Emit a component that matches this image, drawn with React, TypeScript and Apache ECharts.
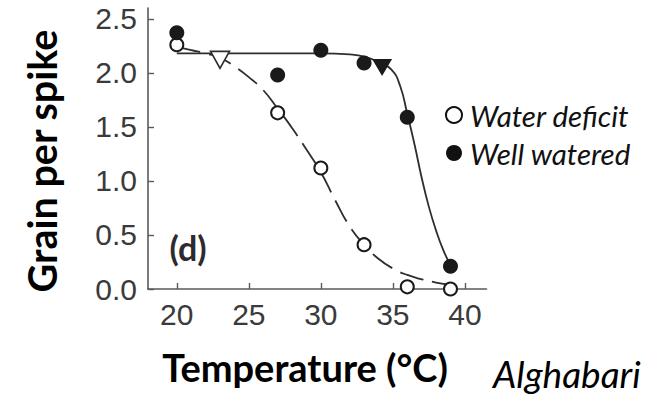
import React, { useEffect, useRef } from "react";
import * as echarts from "echarts";

// ---- data ----
const xTicks = [20, 25, 30, 35, 40];
const yTicks = [0, 0.5, 1.0, 1.5, 2.0, 2.5];

// measured points (temperature °C, grain per spike)
const waterDeficit: [number, number][] = [
  [20, 2.26], [27, 1.63], [30, 1.12], [33, 0.41], [36, 0.02], [39, 0.0],
];
const wellWatered: [number, number][] = [
  [20, 2.37], [27, 1.98], [30, 2.21], [33, 2.09], [36, 1.59], [39, 0.21],
];

// fitted curves
const waterDeficitCurve: [number, number][] = [
  [20, 2.24], [21, 2.21], [22, 2.18], [23, 2.14], [24, 2.06], [25, 1.96],
  [26, 1.84], [27, 1.67], [28, 1.49], [29, 1.29], [30, 1.08], [31, 0.82],
  [32, 0.58], [33, 0.41], [34, 0.28], [35, 0.19], [36, 0.13], [37, 0.09],
  [38, 0.06], [39, 0.04],
];
const wellWateredCurve: [number, number][] = [
  [20, 2.18], [25, 2.18], [30, 2.18], [32, 2.17], [33, 2.15], [34, 2.1],
  [34.9, 2.03], [35.5, 1.88], [36, 1.62], [36.5, 1.34], [37, 1.03],
  [37.5, 0.76], [38, 0.54], [38.5, 0.36], [39, 0.22],
];

// threshold markers (triangles)
const waterDeficitThreshold: [number, number][] = [[23, 2.12]];
const wellWateredThreshold: [number, number][] = [[34.25, 2.05]];

const INK = "#1a1a1a";
const LINE = "#2e2e2e";

export default function App() {
  const ref = useRef<HTMLDivElement>(null);

  useEffect(() => {
    document.body.style.margin = "0";
    const chart = echarts.init(ref.current!, null, { renderer: "svg" });
    const option: any = {
      animation: false,
      backgroundColor: "#ffffff",
      grid: { left: 148, top: 8, right: 164.5, bottom: 107 },
      xAxis: {
        type: "value",
        min: 18,
        max: 41.5,
        splitLine: { show: false },
        axisLine: { show: true, lineStyle: { color: "#5a5a5a", width: 1.6 } },
        axisTick: {
          show: true,
          inside: true,
          length: 6,
          customValues: xTicks,
          lineStyle: { color: "#5a5a5a", width: 1.4 },
        },
        axisLabel: {
          customValues: xTicks,
          fontFamily: "Liberation Sans",
          fontSize: 30,
          color: "#3a3a3a",
          margin: 10,
        },
      },
      yAxis: {
        type: "value",
        min: 0,
        max: 2.6,
        splitLine: { show: false },
        axisLine: { show: true, lineStyle: { color: "#5a5a5a", width: 1.6 } },
        axisTick: {
          show: true,
          inside: true,
          length: 6,
          customValues: yTicks,
          lineStyle: { color: "#5a5a5a", width: 1.4 },
        },
        axisLabel: {
          customValues: yTicks,
          formatter: (v: number) => v.toFixed(1),
          fontFamily: "Liberation Sans",
          fontSize: 30,
          color: "#3a3a3a",
          margin: 11,
        },
      },
      legend: {
        orient: "vertical",
        left: 440,
        top: 95,
        itemWidth: 16,
        itemHeight: 16,
        itemGap: 8,
        selectedMode: false,
        textStyle: {
          fontFamily: "Lato",
          fontStyle: "italic",
          fontSize: 29.5,
          lineHeight: 28,
          color: "#111111",
          padding: [0, 0, 0, 3],
        },
        data: [
          {
            name: "Water deficit",
            icon: "circle",
            itemStyle: { color: "#ffffff", borderColor: "#111111", borderWidth: 2, opacity: 1 },
          },
          { name: "Well watered", icon: "circle", itemStyle: { color: "#111111", opacity: 1 } },
        ],
      },
      series: [
        {
          name: "Water deficit fit",
          type: "line",
          data: waterDeficitCurve,
          smooth: true,
          symbol: "none",
          silent: true,
          z: 2,
          lineStyle: { color: LINE, width: 1.8, type: [24, 9] },
        },
        {
          name: "Well watered fit",
          type: "line",
          data: wellWateredCurve,
          smooth: true,
          symbol: "none",
          silent: true,
          z: 2,
          lineStyle: { color: LINE, width: 1.8, type: "solid" },
        },
        {
          name: "Water deficit",
          type: "scatter",
          data: waterDeficit,
          symbol: "circle",
          symbolSize: 13,
          z: 4,
          itemStyle: { color: "#ffffff", borderColor: INK, borderWidth: 2, opacity: 1 },
        },
        {
          name: "Well watered",
          type: "scatter",
          data: wellWatered,
          symbol: "circle",
          symbolSize: 15,
          z: 4,
          itemStyle: { color: INK, opacity: 1 },
        },
        {
          name: "Water deficit threshold",
          type: "scatter",
          data: waterDeficitThreshold,
          symbol: "triangle",
          symbolRotate: 180,
          symbolSize: [19, 17],
          z: 5,
          itemStyle: { color: "#ffffff", borderColor: LINE, borderWidth: 1.6, opacity: 1 },
        },
        {
          name: "Well watered threshold",
          type: "scatter",
          data: wellWateredThreshold,
          symbol: "triangle",
          symbolRotate: 180,
          symbolSize: [20, 17],
          z: 5,
          itemStyle: { color: INK, opacity: 1 },
        },
      ],
      graphic: [
        {
          type: "text",
          x: 41,
          y: 161,
          rotation: Math.PI / 2,
          style: {
            text: "Grain per spike",
            fontFamily: "Lato",
            fontWeight: "bold",
            fontSize: 39.5,
            fill: "#000000",
            textAlign: "center",
            textVerticalAlign: "middle",
          },
        },
        {
          type: "text",
          x: 305,
          y: 367,
          style: {
            text: "Temperature (°C)",
            fontFamily: "Lato",
            fontWeight: "bold",
            fontSize: 38,
            fill: "#000000",
            textAlign: "center",
            textVerticalAlign: "middle",
          },
        },
        {
          type: "text",
          x: 493,
          y: 373,
          style: {
            text: "Alghabari",
            fontFamily: "Lato",
            fontStyle: "italic",
            fontSize: 37,
            fill: "#000000",
            textAlign: "left",
            textVerticalAlign: "middle",
          },
        },
        {
          type: "text",
          x: 188,
          y: 247,
          style: {
            text: "(d)",
            fontFamily: "Lato",
            fontWeight: "bold",
            fontSize: 34,
            fill: "#2e2a30",
            textAlign: "center",
            textVerticalAlign: "middle",
          },
        },
      ],
    };
    chart.setOption(option);
    return () => chart.dispose();
  }, []);

  return <div ref={ref} style={{ width: 651, height: 396 }} />;
}
